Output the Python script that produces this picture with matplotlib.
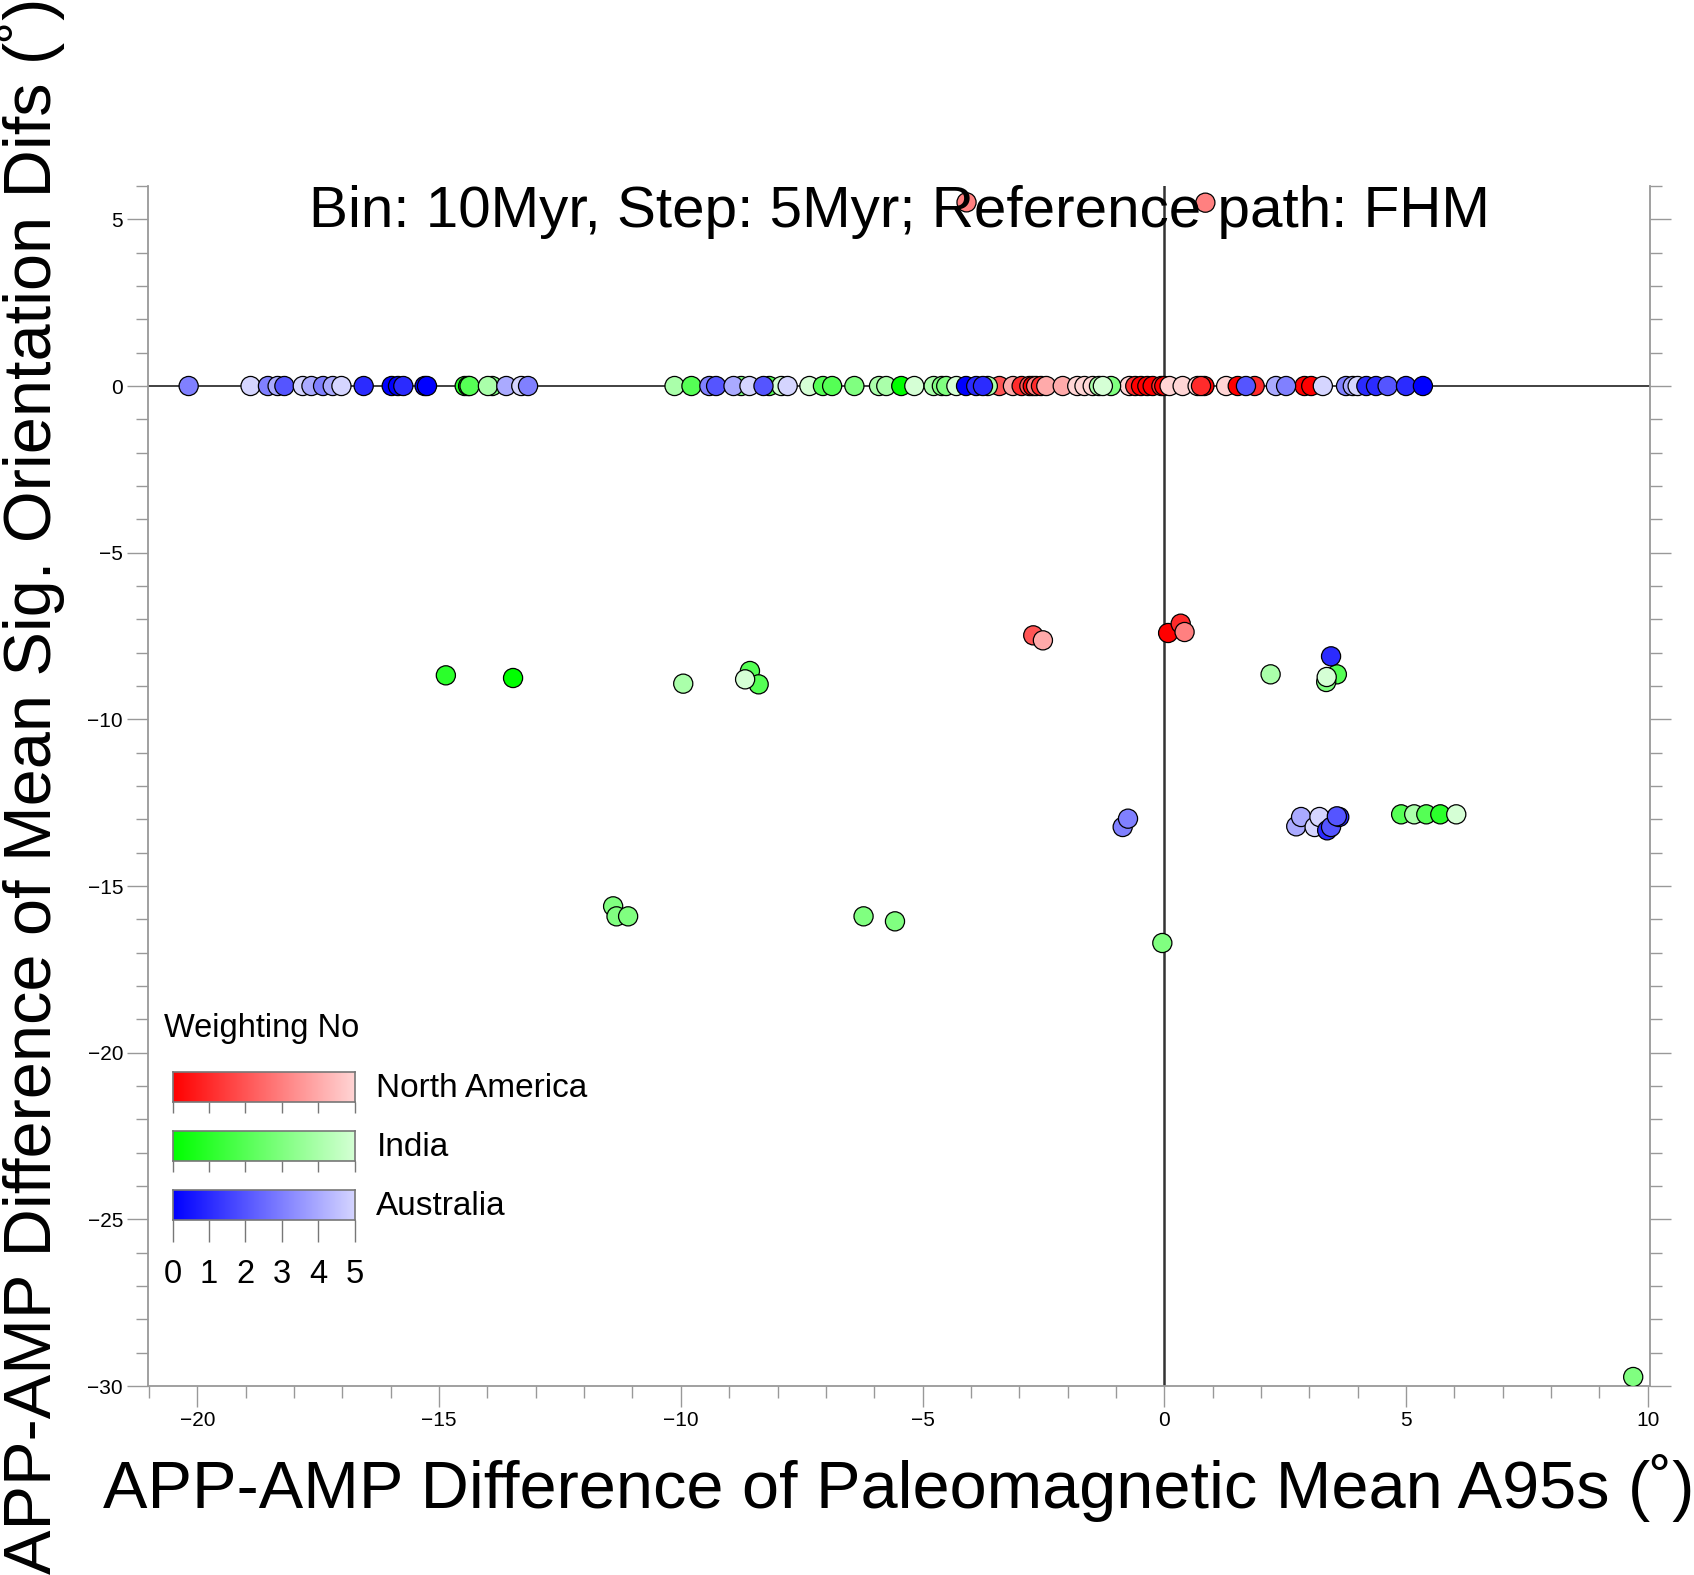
import numpy as np
import matplotlib
matplotlib.use('Agg')
import matplotlib.pyplot as plt
from matplotlib.colors import LinearSegmentedColormap

plt.rcParams['font.family'] = ['Liberation Sans', 'DejaVu Sans']

# North America
na_x = [-3.41, -3.13, -2.95, -2.79, -2.72, -2.65, -2.55, -2.44, -2.10, -1.80, -1.65, -1.48,
        -0.72, -0.60, -0.48, -0.35, -0.24, -0.06, 0.00, 0.11, 0.38, 0.69, 0.83, 0.76,
        1.28, 1.52, 1.87, 2.90, 3.04,
        -4.09, 0.85, -2.71, -2.51, 0.08, 0.34, 0.42]
na_y = [0] * 29 + [5.51, 5.50, -7.48, -7.63, -7.41, -7.13, -7.38]
na_w = [2, 4, 1, 2, 0, 3, 1, 4, 4, 5, 5, 5,
        5, 1, 0, 0, 0, 1, 0, 5, 5, 5, 0, 1,
        5, 0, 1, 0, 0,
        3, 3, 2, 4, 0, 1, 3]

# India
ind_x = [-14.47, -14.40, -14.37, -13.90, -13.99, -10.13, -9.78, -8.75, -8.17, -7.92, -7.34,
         -7.06, -6.87, -6.41, -5.90, -5.75, -5.44, -5.17, -4.77, -4.60, -4.51, -4.30,
         -3.65, -1.35, -1.10, -1.27,
         -14.86, -13.47, -9.95, -8.57, -8.39, -8.67, 2.20, 3.57, 3.35, 3.36,
         4.90, 5.17, 5.42, 5.71, 6.04,
         -11.40, -11.33, -11.09, -6.22, -5.57, -0.04, 9.70]
ind_y = [0] * 26 + [-8.68, -8.76, -8.93, -8.55, -8.95, -8.80, -8.65, -8.65, -8.88, -8.73,
                    -12.85, -12.85, -12.85, -12.85, -12.85,
                    -15.61, -15.91, -15.91, -15.91, -16.06, -16.71, -29.73]
ind_w = [1, 0, 2, 3, 4, 4, 2, 3, 2, 5, 5,
         2, 2, 3, 4, 4, 0, 5, 4, 3, 3, 5,
         4, 4, 3, 5,
         1, 0, 4, 2, 2, 5, 4, 2, 3, 5,
         2, 4, 2, 1, 5,
         3, 3, 3, 3, 3, 3, 3]

# Australia
aus_x = [-20.18, -18.90, -18.54, -18.34, -18.20, -17.82, -17.64, -17.40, -17.20, -17.02,
         -16.56, -15.98, -15.85, -15.74, -15.30, -15.25, -13.61, -13.30, -13.16,
         -9.41, -9.27, -8.91, -8.58, -8.29, -7.79, -4.10, -3.89, -3.75,
         1.69, 2.31, 2.52, 3.28, 3.76, 3.90, 4.00, 4.18, 4.38, 4.62, 5.00, 5.35,
         3.45, -0.86, -0.75, 2.73, 2.83, 3.11, 3.21, 3.37, 3.45, 3.62, 3.57]
aus_y = [0] * 40 + [-8.11, -13.23, -12.98, -13.21, -12.93, -13.23, -12.93, -13.33, -13.23,
                    -12.93, -12.91]
aus_w = [3, 5, 3, 4, 2, 5, 4, 3, 4, 5,
         1, 0, 0, 1, 0, 0, 4, 5, 3,
         3, 2, 4, 5, 2, 5, 0, 1, 1,
         2, 4, 3, 5, 3, 4, 5, 1, 1, 2, 1, 0,
         1, 3, 3, 4, 4, 5, 5, 1, 2, 1, 2]

regions = ['North America', 'India', 'Australia']
base_colors = [(1, 0, 0), (0, 1, 0), (0, 0, 1)]
weight_ticks = [0, 1, 2, 3, 4, 5]


def weight_cmap(base):
    light = tuple(c + (1 - c) * 5 / 6 for c in base)
    return LinearSegmentedColormap.from_list('w', [base, light])


cmaps = [weight_cmap(c) for c in base_colors]

fig = plt.figure(figsize=(16.94, 15.75), dpi=100)
ax = fig.add_axes([0.0874, 0.12, 0.8867, 0.7619])

ax.axhline(0, color='#333333', lw=1.3, zorder=1)
ax.axvline(0, color='#333333', lw=1.8, zorder=1)

data = [(na_x, na_y, na_w), (ind_x, ind_y, ind_w), (aus_x, aus_y, aus_w)]
for (xs, ys, ws), cmap in zip(data, cmaps):
    ax.scatter(xs, ys, c=ws, cmap=cmap, vmin=0, vmax=5, s=190,
               edgecolors='black', linewidths=0.9, zorder=3)

ax.set_xlim(-21.02, 10.05)
ax.set_ylim(-30, 6)
ax.set_xticks(np.arange(-20, 11, 5))
ax.set_xticks(np.arange(-21, 11, 1), minor=True)
ax.set_yticks(np.arange(-30, 6, 5))
ax.set_yticks(np.arange(-30, 7, 1), minor=True)

gray = '#999999'
ax.spines['top'].set_visible(False)
for side in ['left', 'right', 'bottom']:
    ax.spines[side].set_color(gray)
    ax.spines[side].set_linewidth(1.3)
ax.tick_params(which='both', direction='out', color=gray, width=1.0,
               left=True, right=True, bottom=True, top=False, labelsize=15, pad=3)
ax.tick_params(which='major', length=15)
ax.tick_params(which='minor', length=8.5)

ax.text(0.5, 0.978, 'Bin: 10Myr, Step: 5Myr; Reference path: FHM',
        transform=ax.transAxes, ha='center', va='center', fontsize=42, zorder=5)

ax.set_xlabel('APP-AMP Difference of Paleomagnetic Mean A95s (˚)', fontsize=48, labelpad=17)
ax.set_ylabel('APP-AMP Difference of Mean Sig. Orientation Difs (˚)', fontsize=48, labelpad=16)

# weighting legend
fig.text(0.0967, 0.3473, 'Weighting No', fontsize=23.5, va='center', ha='left')
bar_bottoms = [0.3001, 0.2627, 0.2252]
gradient = np.linspace(0, 5, 256).reshape(1, -1)
for i, (name, cmap, b) in enumerate(zip(regions, cmaps, bar_bottoms)):
    cax = fig.add_axes([0.1019, b, 0.1074, 0.0194])
    cax.imshow(gradient, cmap=cmap, aspect='auto', extent=[0, 5, 0, 1], vmin=0, vmax=5)
    cax.set_xlim(0, 5)
    cax.set_yticks([])
    cax.set_xticks(weight_ticks)
    for sp in cax.spines.values():
        sp.set_color('#777777')
        sp.set_linewidth(1.2)
    last = i == len(regions) - 1
    cax.tick_params(axis='x', direction='out', color='#777777', width=1.0,
                    length=16 if last else 7.7, labelbottom=last, labelsize=23.5, pad=12)
    cax.text(1.12, 0.45, name, transform=cax.transAxes, fontsize=24,
             va='center', ha='left')

fig.savefig('out.png', dpi=100)
